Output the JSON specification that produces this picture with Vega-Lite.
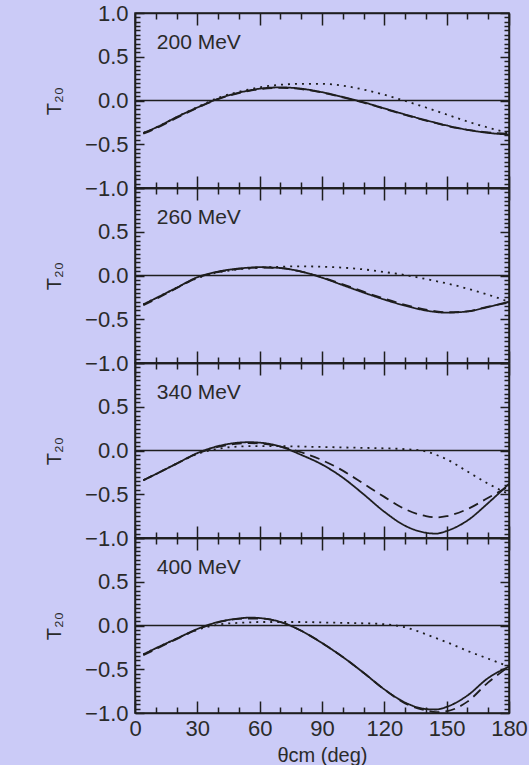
{
  "$schema": "https://vega.github.io/schema/vega-lite/v6.json",
  "background": "#cbcbf7",
  "padding": {"left": 43, "top": 1, "right": 0, "bottom": 0},
  "bounds": "flush",
  "spacing": 0,
  "data": {"values": [
    {"E":"200 MeV","theta":4,"solid":-0.37,"dashed":-0.38,"dotted":-0.37},
    {"E":"200 MeV","theta":10,"solid":-0.31,"dashed":-0.32,"dotted":-0.31},
    {"E":"200 MeV","theta":20,"solid":-0.19,"dashed":-0.2,"dotted":-0.19},
    {"E":"200 MeV","theta":30,"solid":-0.08,"dashed":-0.085,"dotted":-0.075},
    {"E":"200 MeV","theta":40,"solid":0.02,"dashed":0.015,"dotted":0.03},
    {"E":"200 MeV","theta":50,"solid":0.09,"dashed":0.085,"dotted":0.1},
    {"E":"200 MeV","theta":55,"solid":0.115,"dashed":0.11,"dotted":0.127},
    {"E":"200 MeV","theta":60,"solid":0.135,"dashed":0.13,"dotted":0.15},
    {"E":"200 MeV","theta":70,"solid":0.15,"dashed":0.145,"dotted":0.18},
    {"E":"200 MeV","theta":80,"solid":0.135,"dashed":0.13,"dotted":0.19},
    {"E":"200 MeV","theta":90,"solid":0.095,"dashed":0.09,"dotted":0.19},
    {"E":"200 MeV","theta":100,"solid":0.04,"dashed":0.035,"dotted":0.17},
    {"E":"200 MeV","theta":110,"solid":-0.02,"dashed":-0.025,"dotted":0.125},
    {"E":"200 MeV","theta":120,"solid":-0.09,"dashed":-0.095,"dotted":0.065},
    {"E":"200 MeV","theta":130,"solid":-0.16,"dashed":-0.165,"dotted":-0.005},
    {"E":"200 MeV","theta":140,"solid":-0.225,"dashed":-0.23,"dotted":-0.08},
    {"E":"200 MeV","theta":145,"solid":-0.255,"dashed":-0.26,"dotted":-0.12},
    {"E":"200 MeV","theta":150,"solid":-0.285,"dashed":-0.29,"dotted":-0.16},
    {"E":"200 MeV","theta":160,"solid":-0.335,"dashed":-0.335,"dotted":-0.24},
    {"E":"200 MeV","theta":170,"solid":-0.37,"dashed":-0.365,"dotted":-0.31},
    {"E":"200 MeV","theta":180,"solid":-0.39,"dashed":-0.38,"dotted":-0.37},
    {"E":"260 MeV","theta":4,"solid":-0.33,"dashed":-0.34,"dotted":-0.33},
    {"E":"260 MeV","theta":10,"solid":-0.26,"dashed":-0.27,"dotted":-0.26},
    {"E":"260 MeV","theta":20,"solid":-0.14,"dashed":-0.145,"dotted":-0.14},
    {"E":"260 MeV","theta":30,"solid":-0.02,"dashed":-0.025,"dotted":-0.03},
    {"E":"260 MeV","theta":40,"solid":0.045,"dashed":0.04,"dotted":0.035},
    {"E":"260 MeV","theta":50,"solid":0.08,"dashed":0.075,"dotted":0.07},
    {"E":"260 MeV","theta":55,"solid":0.09,"dashed":0.088,"dotted":0.08},
    {"E":"260 MeV","theta":60,"solid":0.095,"dashed":0.09,"dotted":0.09},
    {"E":"260 MeV","theta":70,"solid":0.085,"dashed":0.085,"dotted":0.1},
    {"E":"260 MeV","theta":80,"solid":0.045,"dashed":0.045,"dotted":0.105},
    {"E":"260 MeV","theta":90,"solid":-0.025,"dashed":-0.02,"dotted":0.1},
    {"E":"260 MeV","theta":100,"solid":-0.11,"dashed":-0.1,"dotted":0.09},
    {"E":"260 MeV","theta":110,"solid":-0.195,"dashed":-0.185,"dotted":0.07},
    {"E":"260 MeV","theta":120,"solid":-0.275,"dashed":-0.265,"dotted":0.04},
    {"E":"260 MeV","theta":130,"solid":-0.345,"dashed":-0.335,"dotted":0.005},
    {"E":"260 MeV","theta":140,"solid":-0.4,"dashed":-0.39,"dotted":-0.04},
    {"E":"260 MeV","theta":145,"solid":-0.418,"dashed":-0.41,"dotted":-0.065},
    {"E":"260 MeV","theta":150,"solid":-0.425,"dashed":-0.42,"dotted":-0.09},
    {"E":"260 MeV","theta":160,"solid":-0.41,"dashed":-0.41,"dotted":-0.15},
    {"E":"260 MeV","theta":170,"solid":-0.36,"dashed":-0.355,"dotted":-0.22},
    {"E":"260 MeV","theta":180,"solid":-0.3,"dashed":-0.31,"dotted":-0.3},
    {"E":"340 MeV","theta":4,"solid":-0.34,"dashed":-0.34,"dotted":-0.34},
    {"E":"340 MeV","theta":10,"solid":-0.27,"dashed":-0.27,"dotted":-0.27},
    {"E":"340 MeV","theta":20,"solid":-0.15,"dashed":-0.15,"dotted":-0.15},
    {"E":"340 MeV","theta":30,"solid":-0.03,"dashed":-0.035,"dotted":-0.04},
    {"E":"340 MeV","theta":40,"solid":0.05,"dashed":0.04,"dotted":0.02},
    {"E":"340 MeV","theta":50,"solid":0.09,"dashed":0.08,"dotted":0.045},
    {"E":"340 MeV","theta":55,"solid":0.095,"dashed":0.085,"dotted":0.05},
    {"E":"340 MeV","theta":60,"solid":0.09,"dashed":0.08,"dotted":0.05},
    {"E":"340 MeV","theta":70,"solid":0.045,"dashed":0.045,"dotted":0.05},
    {"E":"340 MeV","theta":80,"solid":-0.05,"dashed":-0.02,"dotted":0.045},
    {"E":"340 MeV","theta":90,"solid":-0.16,"dashed":-0.11,"dotted":0.04},
    {"E":"340 MeV","theta":100,"solid":-0.31,"dashed":-0.23,"dotted":0.035},
    {"E":"340 MeV","theta":110,"solid":-0.5,"dashed":-0.38,"dotted":0.03},
    {"E":"340 MeV","theta":120,"solid":-0.7,"dashed":-0.53,"dotted":0.025},
    {"E":"340 MeV","theta":130,"solid":-0.86,"dashed":-0.67,"dotted":0.015},
    {"E":"340 MeV","theta":140,"solid":-0.94,"dashed":-0.75,"dotted":-0.01},
    {"E":"340 MeV","theta":145,"solid":-0.95,"dashed":-0.765,"dotted":-0.05},
    {"E":"340 MeV","theta":150,"solid":-0.92,"dashed":-0.75,"dotted":-0.1},
    {"E":"340 MeV","theta":160,"solid":-0.8,"dashed":-0.67,"dotted":-0.24},
    {"E":"340 MeV","theta":170,"solid":-0.6,"dashed":-0.54,"dotted":-0.38},
    {"E":"340 MeV","theta":180,"solid":-0.38,"dashed":-0.41,"dotted":-0.5},
    {"E":"400 MeV","theta":4,"solid":-0.33,"dashed":-0.34,"dotted":-0.33},
    {"E":"400 MeV","theta":10,"solid":-0.26,"dashed":-0.27,"dotted":-0.26},
    {"E":"400 MeV","theta":20,"solid":-0.15,"dashed":-0.155,"dotted":-0.15},
    {"E":"400 MeV","theta":30,"solid":-0.04,"dashed":-0.045,"dotted":-0.05},
    {"E":"400 MeV","theta":40,"solid":0.04,"dashed":0.035,"dotted":0.01},
    {"E":"400 MeV","theta":50,"solid":0.08,"dashed":0.075,"dotted":0.03},
    {"E":"400 MeV","theta":55,"solid":0.09,"dashed":0.08,"dotted":0.035},
    {"E":"400 MeV","theta":60,"solid":0.085,"dashed":0.08,"dotted":0.04},
    {"E":"400 MeV","theta":70,"solid":0.04,"dashed":0.04,"dotted":0.04},
    {"E":"400 MeV","theta":80,"solid":-0.06,"dashed":-0.06,"dotted":0.04},
    {"E":"400 MeV","theta":90,"solid":-0.2,"dashed":-0.2,"dotted":0.035},
    {"E":"400 MeV","theta":100,"solid":-0.36,"dashed":-0.36,"dotted":0.03},
    {"E":"400 MeV","theta":110,"solid":-0.54,"dashed":-0.54,"dotted":0.025},
    {"E":"400 MeV","theta":120,"solid":-0.73,"dashed":-0.73,"dotted":0.015},
    {"E":"400 MeV","theta":130,"solid":-0.88,"dashed":-0.89,"dotted":-0.02},
    {"E":"400 MeV","theta":140,"solid":-0.955,"dashed":-0.97,"dotted":-0.1},
    {"E":"400 MeV","theta":145,"solid":-0.96,"dashed":-0.99,"dotted":-0.145},
    {"E":"400 MeV","theta":150,"solid":-0.93,"dashed":-0.98,"dotted":-0.19},
    {"E":"400 MeV","theta":160,"solid":-0.8,"dashed":-0.87,"dotted":-0.29},
    {"E":"400 MeV","theta":170,"solid":-0.6,"dashed":-0.65,"dotted":-0.38},
    {"E":"400 MeV","theta":180,"solid":-0.47,"dashed":-0.47,"dotted":-0.47}
  ]},
  "config": {
    "view": {"stroke": "#1e1e1e", "strokeWidth": 1.5},
    "axis": {
      "grid": false,
      "domainColor": "#1e1e1e", "domainWidth": 1.5,
      "tickColor": "#1e1e1e", "tickWidth": 1.5,
      "labelFont": "Liberation Sans", "labelFontSize": 22, "labelColor": "#2a2a2a",
      "labelFlush": false, "labelOverlap": false, "labelBound": false,
      "titleFont": "Liberation Sans", "titleFontSize": 20, "titleColor": "#2a2a2a", "titleFontWeight": "normal"
    }
  },
  "vconcat": [
    {
      "width": 374, "height": 175,
      "layer": [
        {
          "transform": [{"filter": "datum.E === '200 MeV'"}, {"fold": ["solid", "dashed", "dotted"], "as": ["model", "t20"]}],
          "mark": {"type": "line", "interpolate": "monotone", "strokeWidth": 1.8, "color": "#1e1e1e"},
          "encoding": {
            "x": {"field": "theta", "type": "quantitative", "scale": {"domain": [0, 180], "nice": false, "zero": false},
              "axis": {"orient": "bottom", "values": [0,10,20,30,40,50,60,70,80,90,100,110,120,130,140,150,160,170,180], "labels": false, "title": null,
                "tickSize": {"condition": {"test": "datum.value % 30 === 0", "value": -12}, "value": -6}}},
            "y": {"field": "t20", "type": "quantitative", "scale": {"domain": [-1, 1], "nice": false},
              "axis": {"orient": "left", "values": [-1,-0.95,-0.9,-0.85,-0.8,-0.75,-0.7,-0.65,-0.6,-0.55,-0.5,-0.45,-0.4,-0.35,-0.3,-0.25,-0.2,-0.15,-0.1,-0.05,0,0.05,0.1,0.15,0.2,0.25,0.3,0.35,0.4,0.45,0.5,0.55,0.6,0.65,0.7,0.75,0.8,0.85,0.9,0.95,1],
                "format": ".1f", "labelExpr": "abs(datum.value*2 - round(datum.value*2)) < 0.001 ? datum.label : ''",
                "tickSize": {"condition": {"test": "abs(datum.value*2 - round(datum.value*2)) < 0.001", "value": -9}, "value": -5},
                "labelPadding": 16, "title": "T₂₀", "titlePadding": 20}},
            "strokeDash": {"field": "model", "type": "nominal", "scale": {"domain": ["solid", "dashed", "dotted"], "range": [[1, 0], [10, 6], [2, 5]]}, "legend": null}
          }
        },
        {
          "data": {"values": [{}]},
          "mark": {"type": "rule", "strokeWidth": 1.4, "color": "#1e1e1e"},
          "encoding": {"y": {"datum": 0, "type": "quantitative", "axis": null}}
        },
        {
          "data": {"values": [{"label": "200 MeV"}]},
          "mark": {"type": "text", "align": "left", "baseline": "middle", "fontSize": 21, "font": "Liberation Sans", "color": "#2a2a2a"},
          "encoding": {
            "x": {"datum": 10.5, "type": "quantitative",
              "axis": {"orient": "top", "values": [0,10,20,30,40,50,60,70,80,90,100,110,120,130,140,150,160,170,180], "labels": false, "title": null,
                "tickSize": {"condition": {"test": "datum.value % 30 === 0", "value": -12}, "value": -6}}},
            "y": {"datum": 0.66, "type": "quantitative",
              "axis": {"orient": "right", "values": [-1,-0.95,-0.9,-0.85,-0.8,-0.75,-0.7,-0.65,-0.6,-0.55,-0.5,-0.45,-0.4,-0.35,-0.3,-0.25,-0.2,-0.15,-0.1,-0.05,0,0.05,0.1,0.15,0.2,0.25,0.3,0.35,0.4,0.45,0.5,0.55,0.6,0.65,0.7,0.75,0.8,0.85,0.9,0.95,1],
                "labels": false, "title": null,
                "tickSize": {"condition": {"test": "abs(datum.value*2 - round(datum.value*2)) < 0.001", "value": -9}, "value": -5}}},
            "text": {"field": "label"}
          }
        }
      ],
      "resolve": {"axis": {"x": "independent", "y": "independent"}}
    },
    {
      "width": 374, "height": 175,
      "layer": [
        {
          "transform": [{"filter": "datum.E === '260 MeV'"}, {"fold": ["solid", "dashed", "dotted"], "as": ["model", "t20"]}],
          "mark": {"type": "line", "interpolate": "monotone", "strokeWidth": 1.8, "color": "#1e1e1e"},
          "encoding": {
            "x": {"field": "theta", "type": "quantitative", "scale": {"domain": [0, 180], "nice": false, "zero": false},
              "axis": {"orient": "bottom", "values": [0,10,20,30,40,50,60,70,80,90,100,110,120,130,140,150,160,170,180], "labels": false, "title": null,
                "tickSize": {"condition": {"test": "datum.value % 30 === 0", "value": -12}, "value": -6}}},
            "y": {"field": "t20", "type": "quantitative", "scale": {"domain": [-1, 1], "nice": false},
              "axis": {"orient": "left", "values": [-1,-0.95,-0.9,-0.85,-0.8,-0.75,-0.7,-0.65,-0.6,-0.55,-0.5,-0.45,-0.4,-0.35,-0.3,-0.25,-0.2,-0.15,-0.1,-0.05,0,0.05,0.1,0.15,0.2,0.25,0.3,0.35,0.4,0.45,0.5,0.55,0.6,0.65,0.7,0.75,0.8,0.85,0.9,0.95,1],
                "format": ".1f", "labelExpr": "abs(datum.value*2 - round(datum.value*2)) < 0.001 && datum.value < 0.99 ? datum.label : ''",
                "tickSize": {"condition": {"test": "abs(datum.value*2 - round(datum.value*2)) < 0.001", "value": -9}, "value": -5},
                "labelPadding": 16, "title": "T₂₀", "titlePadding": 20}},
            "strokeDash": {"field": "model", "type": "nominal", "scale": {"domain": ["solid", "dashed", "dotted"], "range": [[1, 0], [10, 6], [2, 5]]}, "legend": null}
          }
        },
        {
          "data": {"values": [{}]},
          "mark": {"type": "rule", "strokeWidth": 1.4, "color": "#1e1e1e"},
          "encoding": {"y": {"datum": 0, "type": "quantitative", "axis": null}}
        },
        {
          "data": {"values": [{"label": "260 MeV"}]},
          "mark": {"type": "text", "align": "left", "baseline": "middle", "fontSize": 21, "font": "Liberation Sans", "color": "#2a2a2a"},
          "encoding": {
            "x": {"datum": 10.5, "type": "quantitative",
              "axis": {"orient": "top", "values": [0,10,20,30,40,50,60,70,80,90,100,110,120,130,140,150,160,170,180], "labels": false, "title": null,
                "tickSize": {"condition": {"test": "datum.value % 30 === 0", "value": -12}, "value": -6}}},
            "y": {"datum": 0.66, "type": "quantitative",
              "axis": {"orient": "right", "values": [-1,-0.95,-0.9,-0.85,-0.8,-0.75,-0.7,-0.65,-0.6,-0.55,-0.5,-0.45,-0.4,-0.35,-0.3,-0.25,-0.2,-0.15,-0.1,-0.05,0,0.05,0.1,0.15,0.2,0.25,0.3,0.35,0.4,0.45,0.5,0.55,0.6,0.65,0.7,0.75,0.8,0.85,0.9,0.95,1],
                "labels": false, "title": null,
                "tickSize": {"condition": {"test": "abs(datum.value*2 - round(datum.value*2)) < 0.001", "value": -9}, "value": -5}}},
            "text": {"field": "label"}
          }
        }
      ],
      "resolve": {"axis": {"x": "independent", "y": "independent"}}
    },
    {
      "width": 374, "height": 175,
      "layer": [
        {
          "transform": [{"filter": "datum.E === '340 MeV'"}, {"fold": ["solid", "dashed", "dotted"], "as": ["model", "t20"]}],
          "mark": {"type": "line", "interpolate": "monotone", "strokeWidth": 1.8, "color": "#1e1e1e"},
          "encoding": {
            "x": {"field": "theta", "type": "quantitative", "scale": {"domain": [0, 180], "nice": false, "zero": false},
              "axis": {"orient": "bottom", "values": [0,10,20,30,40,50,60,70,80,90,100,110,120,130,140,150,160,170,180], "labels": false, "title": null,
                "tickSize": {"condition": {"test": "datum.value % 30 === 0", "value": -12}, "value": -6}}},
            "y": {"field": "t20", "type": "quantitative", "scale": {"domain": [-1, 1], "nice": false},
              "axis": {"orient": "left", "values": [-1,-0.95,-0.9,-0.85,-0.8,-0.75,-0.7,-0.65,-0.6,-0.55,-0.5,-0.45,-0.4,-0.35,-0.3,-0.25,-0.2,-0.15,-0.1,-0.05,0,0.05,0.1,0.15,0.2,0.25,0.3,0.35,0.4,0.45,0.5,0.55,0.6,0.65,0.7,0.75,0.8,0.85,0.9,0.95,1],
                "format": ".1f", "labelExpr": "abs(datum.value*2 - round(datum.value*2)) < 0.001 && datum.value < 0.99 ? datum.label : ''",
                "tickSize": {"condition": {"test": "abs(datum.value*2 - round(datum.value*2)) < 0.001", "value": -9}, "value": -5},
                "labelPadding": 16, "title": "T₂₀", "titlePadding": 20}},
            "strokeDash": {"field": "model", "type": "nominal", "scale": {"domain": ["solid", "dashed", "dotted"], "range": [[1, 0], [10, 6], [2, 5]]}, "legend": null}
          }
        },
        {
          "data": {"values": [{}]},
          "mark": {"type": "rule", "strokeWidth": 1.4, "color": "#1e1e1e"},
          "encoding": {"y": {"datum": 0, "type": "quantitative", "axis": null}}
        },
        {
          "data": {"values": [{"label": "340 MeV"}]},
          "mark": {"type": "text", "align": "left", "baseline": "middle", "fontSize": 21, "font": "Liberation Sans", "color": "#2a2a2a"},
          "encoding": {
            "x": {"datum": 10.5, "type": "quantitative",
              "axis": {"orient": "top", "values": [0,10,20,30,40,50,60,70,80,90,100,110,120,130,140,150,160,170,180], "labels": false, "title": null,
                "tickSize": {"condition": {"test": "datum.value % 30 === 0", "value": -12}, "value": -6}}},
            "y": {"datum": 0.66, "type": "quantitative",
              "axis": {"orient": "right", "values": [-1,-0.95,-0.9,-0.85,-0.8,-0.75,-0.7,-0.65,-0.6,-0.55,-0.5,-0.45,-0.4,-0.35,-0.3,-0.25,-0.2,-0.15,-0.1,-0.05,0,0.05,0.1,0.15,0.2,0.25,0.3,0.35,0.4,0.45,0.5,0.55,0.6,0.65,0.7,0.75,0.8,0.85,0.9,0.95,1],
                "labels": false, "title": null,
                "tickSize": {"condition": {"test": "abs(datum.value*2 - round(datum.value*2)) < 0.001", "value": -9}, "value": -5}}},
            "text": {"field": "label"}
          }
        }
      ],
      "resolve": {"axis": {"x": "independent", "y": "independent"}}
    },
    {
      "width": 374, "height": 175,
      "layer": [
        {
          "transform": [{"filter": "datum.E === '400 MeV'"}, {"fold": ["solid", "dashed", "dotted"], "as": ["model", "t20"]}],
          "mark": {"type": "line", "interpolate": "monotone", "strokeWidth": 1.8, "color": "#1e1e1e"},
          "encoding": {
            "x": {"field": "theta", "type": "quantitative", "scale": {"domain": [0, 180], "nice": false, "zero": false},
              "axis": {"orient": "bottom", "values": [0,10,20,30,40,50,60,70,80,90,100,110,120,130,140,150,160,170,180],
                "labelExpr": "datum.value % 30 === 0 ? datum.label : ''", "labelPadding": 17, "title": "θcm (deg)", "titlePadding": 0,
                "tickSize": {"condition": {"test": "datum.value % 30 === 0", "value": -12}, "value": -6}}},
            "y": {"field": "t20", "type": "quantitative", "scale": {"domain": [-1, 1], "nice": false},
              "axis": {"orient": "left", "values": [-1,-0.95,-0.9,-0.85,-0.8,-0.75,-0.7,-0.65,-0.6,-0.55,-0.5,-0.45,-0.4,-0.35,-0.3,-0.25,-0.2,-0.15,-0.1,-0.05,0,0.05,0.1,0.15,0.2,0.25,0.3,0.35,0.4,0.45,0.5,0.55,0.6,0.65,0.7,0.75,0.8,0.85,0.9,0.95,1],
                "format": ".1f", "labelExpr": "abs(datum.value*2 - round(datum.value*2)) < 0.001 && datum.value < 0.99 ? datum.label : ''",
                "tickSize": {"condition": {"test": "abs(datum.value*2 - round(datum.value*2)) < 0.001", "value": -9}, "value": -5},
                "labelPadding": 16, "title": "T₂₀", "titlePadding": 20}},
            "strokeDash": {"field": "model", "type": "nominal", "scale": {"domain": ["solid", "dashed", "dotted"], "range": [[1, 0], [10, 6], [2, 5]]}, "legend": null}
          }
        },
        {
          "data": {"values": [{}]},
          "mark": {"type": "rule", "strokeWidth": 1.4, "color": "#1e1e1e"},
          "encoding": {"y": {"datum": 0, "type": "quantitative", "axis": null}}
        },
        {
          "data": {"values": [{"label": "400 MeV"}]},
          "mark": {"type": "text", "align": "left", "baseline": "middle", "fontSize": 21, "font": "Liberation Sans", "color": "#2a2a2a"},
          "encoding": {
            "x": {"datum": 10.5, "type": "quantitative",
              "axis": {"orient": "top", "values": [0,10,20,30,40,50,60,70,80,90,100,110,120,130,140,150,160,170,180], "labels": false, "title": null,
                "tickSize": {"condition": {"test": "datum.value % 30 === 0", "value": -12}, "value": -6}}},
            "y": {"datum": 0.66, "type": "quantitative",
              "axis": {"orient": "right", "values": [-1,-0.95,-0.9,-0.85,-0.8,-0.75,-0.7,-0.65,-0.6,-0.55,-0.5,-0.45,-0.4,-0.35,-0.3,-0.25,-0.2,-0.15,-0.1,-0.05,0,0.05,0.1,0.15,0.2,0.25,0.3,0.35,0.4,0.45,0.5,0.55,0.6,0.65,0.7,0.75,0.8,0.85,0.9,0.95,1],
                "labels": false, "title": null,
                "tickSize": {"condition": {"test": "abs(datum.value*2 - round(datum.value*2)) < 0.001", "value": -9}, "value": -5}}},
            "text": {"field": "label"}
          }
        }
      ],
      "resolve": {"axis": {"x": "independent", "y": "independent"}}
    }
  ]
}
